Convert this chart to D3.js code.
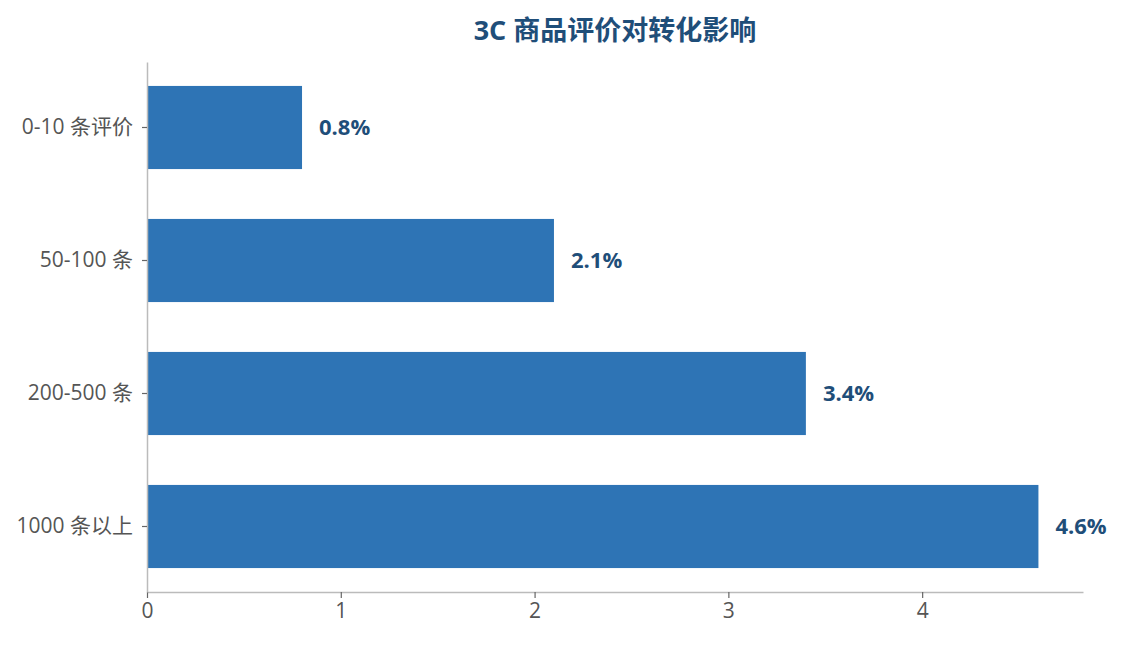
<!DOCTYPE html>
<html>
<head>
<meta charset="utf-8">
<script src="https://cdn.jsdelivr.net/npm/d3@7"></script>
<style>
  body { margin: 0; background: #fff; }
  svg text { font-family: "Open Sans", "Noto Sans CJK SC", sans-serif; }
</style>
</head>
<body>
<svg id="chart" width="1123" height="645"></svg>
<script>
// data
var categories = ["0-10 条评价", "50-100 条", "200-500 条", "1000 条以上"];
var values = [0.8, 2.1, 3.4, 4.6];
var xTicks = [0, 1, 2, 3, 4];
var title = "3C 商品评价对转化影响";

var svg = d3.select("#chart");
var margin = {top: 62, right: 40, bottom: 53, left: 147};
var W = 1123, H = 645;
var w = W - margin.left - margin.right;
var h = H - margin.top - margin.bottom;

var g = svg.append("g")
  .attr("transform", "translate(" + margin.left + "," + margin.top + ")");

var x = d3.scaleLinear()
  .domain([0, d3.max(values) * 1.05])
  .range([0, w]);

var y = d3.scaleBand()
  .domain(categories)
  .range([0, h])
  .paddingInner(0.375)
  .paddingOuter(0.18);

// title
svg.append("text")
  .attr("x", margin.left + w / 2)
  .attr("y", 40)
  .attr("text-anchor", "middle")
  .attr("font-size", 27)
  .attr("font-weight", "bold")
  .attr("fill", "#1f4e79")
  .text(title);

// bars
g.selectAll("rect.bar")
  .data(values)
  .enter().append("rect")
  .attr("class", "bar")
  .attr("x", 0)
  .attr("y", function(d, i) { return y(categories[i]); })
  .attr("width", function(d) { return x(d); })
  .attr("height", y.bandwidth())
  .attr("fill", "#2e74b5");

// value labels
g.selectAll("text.val")
  .data(values)
  .enter().append("text")
  .attr("class", "val")
  .attr("x", function(d) { return x(d) + 17; })
  .attr("y", function(d, i) { return y(categories[i]) + y.bandwidth() / 2; })
  .attr("dy", "0.35em")
  .attr("font-size", 22)
  .attr("font-weight", "bold")
  .attr("fill", "#1f4e79")
  .text(function(d) { return d.toFixed(1) + "%"; });

// axes
var xAxis = g.append("g")
  .attr("transform", "translate(0," + h + ")")
  .call(d3.axisBottom(x).tickValues(xTicks).tickFormat(d3.format("d"))
    .tickSize(6).tickPadding(5).tickSizeOuter(0));

var yAxis = g.append("g")
  .call(d3.axisLeft(y).tickSize(5).tickPadding(9).tickSizeOuter(0));

[xAxis, yAxis].forEach(function(a) {
  a.select(".domain").attr("stroke", "#bbbbbb").attr("stroke-width", 1.5);
  a.selectAll(".tick line").attr("stroke", "#666").attr("stroke-width", 1.2);
  a.selectAll(".tick text")
    .attr("fill", "#555")
    .attr("font-size", 21);
});
</script>
</body>
</html>
